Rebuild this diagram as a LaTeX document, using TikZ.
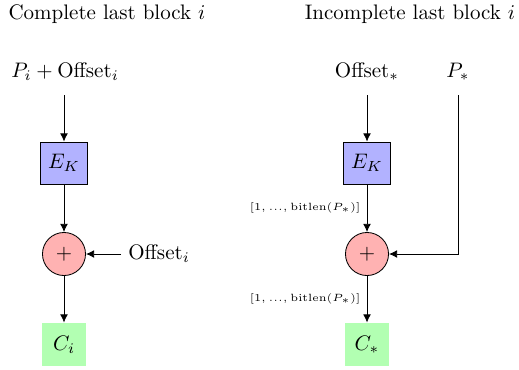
\documentclass[tikz,border=0pt]{standalone}
\usetikzlibrary{arrows.meta}
\begin{document}
\begin{tikzpicture}[x=0.4762pt,y=-0.4762pt,
  cipher/.style={draw, fill=blue!30, minimum width=22.4pt, minimum height=20pt, inner sep=0pt},
  xorop/.style={draw, circle, fill=red!30, minimum size=20.5pt, inner sep=0pt},
  outbox/.style={fill=green!30, minimum width=20.5pt, minimum height=20.5pt, inner sep=0pt},
  flow/.style={-{Latex[length=3.9pt,width=3.7pt]}},
  bitlabel/.style={font=\tiny, anchor=east, inner sep=1pt}]
\useasboundingbox (0,0) rectangle (519,369);

% Complete last block
\node (t1) at (107,14) {Complete last block $i$};
\node (in1) at (65,72) {$P_i + \mathrm{Offset}_i$};
\coordinate (s1) at (64,95);
\node[cipher] (e1) at (64,163) {$E_K$};
\node[xorop] (x1) at (64,254) {$+$};
\node[anchor=west] (o1) at (121,254) {$\mathrm{Offset}_i$};
\node[outbox] (c1) at (64,344.5) {$C_i$};
\draw[flow] (s1) -- (e1);
\draw[flow] (e1) -- (x1);
\draw[flow] (o1) -- (x1);
\draw[flow] (x1) -- (c1);

% Incomplete last block
\node (t2) at (410,14) {Incomplete last block $i$};
\node (in2) at (367,72) {$\mathrm{Offset}_*$};
\node (p2) at (458,72) {$P_*$};
\coordinate (s2) at (367,95);
\coordinate (s3) at (458,95);
\coordinate (k3) at (458,254);
\node[cipher] (e2) at (367,163) {$E_K$};
\node[xorop] (x2) at (367,254) {$+$};
\node[outbox] (c2) at (367,344.5) {$C_*$};
\draw[flow] (s2) -- (e2);
\draw[flow] (e2) -- node[bitlabel, pos=0.5, xshift=-2pt] {$[1, ..., \mathrm{bitlen}(P_*)]$} (x2);
\draw[flow] (s3) -- (k3) -- (x2);
\draw[flow] (x2) -- node[bitlabel, pos=0.5, xshift=-2pt] {$[1, ..., \mathrm{bitlen}(P_*)]$} (c2);
\end{tikzpicture}
\end{document}
